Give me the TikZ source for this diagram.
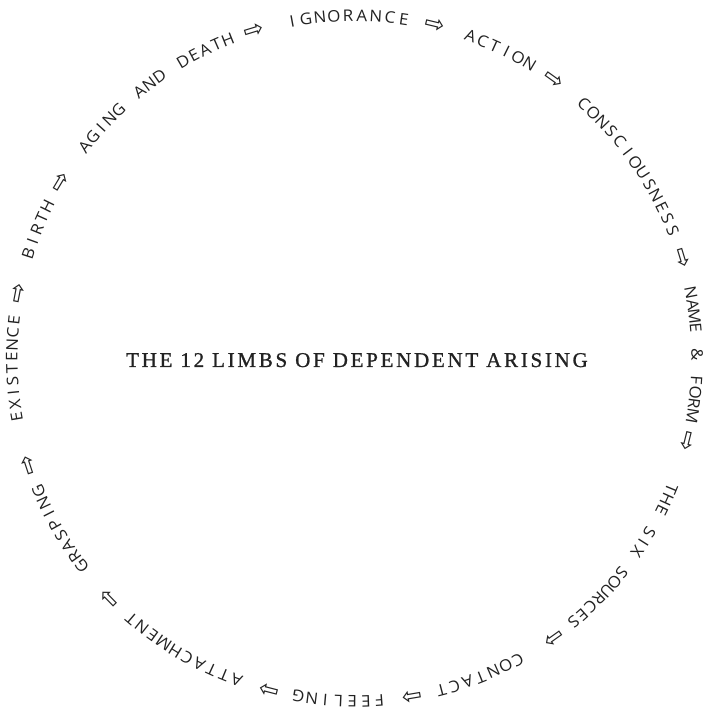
\documentclass[tikz,border=0pt]{standalone}
\usepackage{fontspec}
\newfontfamily\circfam[FakeStretch=1.06]{Open Sans}
\newfontfamily\arrfam{DejaVu Sans}
\newfontfamily\titlefam[LetterSpace=13,FakeBold=1]{Liberation Serif}
\definecolor{ink}{HTML}{222222}
\newcommand\cfmt{\circfam\fontsize{16}{19}\selectfont}
\newcommand\afmt{\arrfam\fontsize{24}{26}\selectfont}
\newcommand\tfmt{\titlefam\fontsize{21}{25}\selectfont}
\def\Rv{337}
\def\Cx{354.5}
\def\Cy{357.5}
\newdimen\totw
\newdimen\posd
\newcount\nchars
\tikzset{
  glyph/.style={anchor=base, inner sep=0pt, text=ink, font=\cfmt},
  titlebox/.style={font=\tfmt, text=ink, anchor=base, inner sep=0pt}
}
% #1 name, #2 start angle, #3 end angle, #4 list of characters
\newcommand\arcword[4]{%
  \global\totw=0pt \global\nchars=0 \global\posd=0pt
  \foreach \ch in {#4}{%
    \setbox0\hbox{\cfmt\ch}%
    \global\advance\totw by \wd0
    \global\advance\nchars by 1 }%
  \pgfmathsetmacro\arclen{(#2-#3)/57.29578*\Rv}%
  \pgfmathsetmacro\gap{(\arclen-\the\totw)/(\the\nchars-1)}%
  \foreach \ch [count=\i] in {#4}{%
    \setbox0\hbox{\cfmt\ch}%
    \pgfmathsetmacro\ang{#2-(\the\posd+0.5*\the\wd0)/\Rv*57.29578}%
    \pgfmathsetmacro\px{\Cx+\Rv*cos(\ang)}%
    \pgfmathsetmacro\py{\Cy+\Rv*sin(\ang)}%
    \node[glyph, rotate=\ang-90] (#1-\i) at (\px,\py) {\ch};
    \global\advance\posd by \wd0
    \global\advance\posd by \gap pt }%
}
\newcommand\AR{{\afmt\raisebox{-1.5pt}{⇨}}}
\newcommand\SP{\hspace{3pt}}
\begin{document}
\begin{tikzpicture}[x=1pt,y=1pt]
\fill[white] (0,0) rectangle (703,716);
\useasboundingbox (0,0) rectangle (703,716);
\coordinate (c) at (\Cx,\Cy);
\arcword{ign}{100.5}{76.5}{I,G,N,O,R,A,N,C,E,\SP,\AR}
\arcword{act}{70.2}{54.4}{A,C,T,I,O,N,\SP,\AR}
\arcword{con}{48.0}{17.0}{C,O,N,S,C,I,O,U,S,N,E,S,S,\SP,\AR}
\arcword{nam}{11.0}{-14.0}{N,A,M,E,\SP,\&,\SP,F,O,R,M,\SP,\AR}
\arcword{six}{-22.4}{-54.6}{T,H,E,\SP,S,I,X,\SP,S,O,U,R,C,E,S,\SP,\AR}
\arcword{cot}{-61.5}{-80.4}{C,O,N,T,A,C,T,\SP,\AR}
\arcword{fee}{-85.8}{-104.5}{F,E,E,L,I,N,G,\SP,\AR}
\arcword{att}{-110.1}{-135.7}{A,T,T,A,C,H,M,E,N,T,\SP,\AR}
\arcword{gra}{-142.7}{-161.8}{G,R,A,S,P,I,N,G,\SP,\AR}
\arcword{exi}{-170.2}{-190.9}{E,X,I,S,T,E,N,C,E,\SP,\AR}
\arcword{bir}{162.1}{149.0}{B,I,R,T,H,\SP,\AR}
\arcword{agi}{141.9}{107.0}{A,G,I,N,G,\SP,A,N,D,\SP,D,E,A,T,H,\SP,\AR}
\node[titlebox] (title) at (357,349) {THE 12 LIMBS OF DEPENDENT ARISING};
\end{tikzpicture}
\end{document}
